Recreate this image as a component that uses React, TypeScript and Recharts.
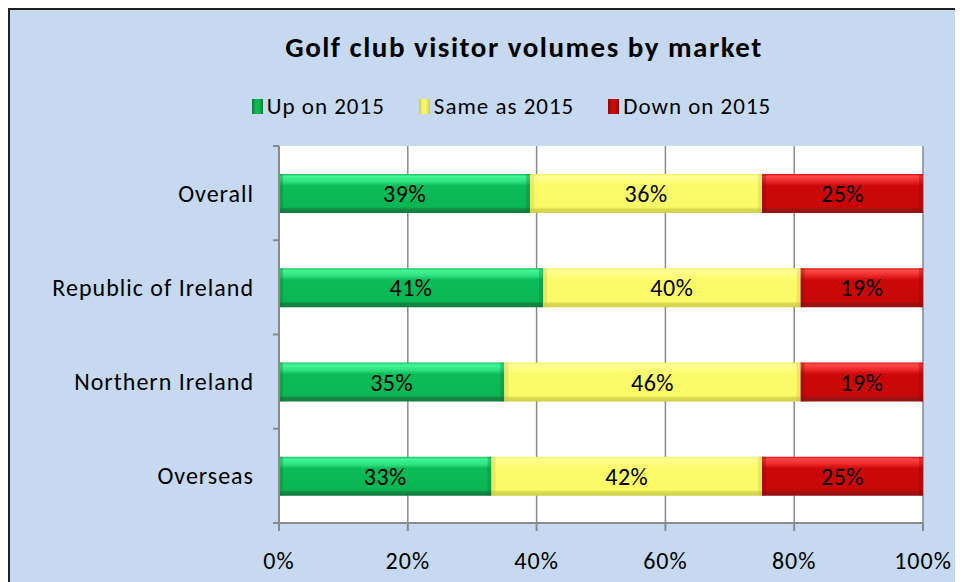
import { BarChart, Bar, XAxis, YAxis, CartesianGrid, LabelList } from "recharts";

const markets = ["Overall", "Republic of Ireland", "Northern Ireland", "Overseas"];
const upOn2015 = [39, 41, 35, 33];
const sameAs2015 = [36, 40, 46, 42];
const downOn2015 = [25, 19, 19, 25];
const xTicks = [0, 20, 40, 60, 80, 100];

const series = [
  { key: "up", name: "Up on 2015", grad: "gUp", edge: "#0c7a3a", swatch: "#10b955" },
  { key: "same", name: "Same as 2015", grad: "gSame", edge: "#c9c94a", swatch: "#f6f66a" },
  { key: "down", name: "Down on 2015", grad: "gDown", edge: "#8a0808", swatch: "#cc0a0a" },
];

const data = markets.map((m, i) => ({
  market: m,
  up: upOn2015[i],
  same: sameAs2015[i],
  down: downOn2015[i],
}));

const FONT = "Carlito, Lato, 'DejaVu Sans', sans-serif";
const GRAY = "#8a8a8a";

const BevelBar = (props: any) => {
  const { x, y, width, height, grad, edge } = props;
  if (!width || width <= 0) return null;
  const e = Math.min(4, width / 4);
  return (
    <g>
      <rect x={x} y={y} width={width} height={height} fill={`url(#${grad})`} />
      <rect x={x} y={y} width={e} height={height} fill={edge} opacity={0.35} />
      <rect x={x + width - e} y={y} width={e} height={height} fill={edge} opacity={0.35} />
    </g>
  );
};

const YTick = (props: any) => {
  const { x, y, payload, index } = props;
  const half = payload && payload.offset ? payload.offset : 47;
  const ax = x + 26;
  return (
    <g>
      <line x1={ax - 6} x2={ax} y1={y - half} y2={y - half} stroke={GRAY} strokeWidth={2} />
      {index === markets.length - 1 && (
        <line x1={ax - 6} x2={ax} y1={y + half} y2={y + half} stroke={GRAY} strokeWidth={2} />
      )}
      <text
        x={x + 1}
        y={y}
        dy="0.35em"
        textAnchor="end"
        fill="#000"
        fontSize={24}
        letterSpacing={1}
        fontFamily={FONT}
      >
        {payload.value}
      </text>
    </g>
  );
};

export default function App() {
  return (
    <div
      style={{
        position: "relative",
        width: 955,
        height: 574,
        boxSizing: "border-box",
        borderTop: "2px solid #222",
        borderLeft: "2px solid #222",
        background: "#c6d9f0",
        fontFamily: FONT,
        overflow: "hidden",
      }}
    >
      <div
        style={{
          position: "absolute",
          top: 19,
          left: 0,
          width: 1028,
          textAlign: "center",
          fontWeight: "bold",
          fontSize: 29,
          letterSpacing: 1.5,
          color: "#000",
        }}
      >
        Golf club visitor volumes by market
      </div>
      <div
        style={{
          position: "absolute",
          top: 82,
          left: 0,
          width: 1003,
          display: "flex",
          justifyContent: "center",
          gap: 34,
          fontSize: 23,
          letterSpacing: 1,
          color: "#000",
        }}
      >
        {series.map((s) => (
          <div key={s.key} style={{ display: "flex", alignItems: "center" }}>
            <span
              style={{
                display: "inline-block",
                width: 11,
                height: 15,
                marginRight: 4,
                background: `linear-gradient(to right, ${s.edge}, ${s.swatch} 35%, ${s.swatch} 65%, ${s.edge})`,
              }}
            />
            <span>{s.name}</span>
          </div>
        ))}
      </div>
      <BarChart
        width={953}
        height={572}
        data={data}
        layout="vertical"
        margin={{ top: 136, right: 40, bottom: 9, left: 0 }}
        barSize={39}
      >
        <defs>
          <linearGradient id="gUp" x1="0" y1="0" x2="0" y2="1">
            <stop offset="0" stopColor="#17c063" />
            <stop offset="0.06" stopColor="#42f596" />
            <stop offset="0.2" stopColor="#2ee07e" />
            <stop offset="0.3" stopColor="#0cbb57" />
            <stop offset="0.85" stopColor="#0bb654" />
            <stop offset="0.9" stopColor="#138a44" />
            <stop offset="1" stopColor="#137a3d" />
          </linearGradient>
          <linearGradient id="gSame" x1="0" y1="0" x2="0" y2="1">
            <stop offset="0" stopColor="#f2f25c" />
            <stop offset="0.06" stopColor="#ffff96" />
            <stop offset="0.2" stopColor="#fdfd7a" />
            <stop offset="0.3" stopColor="#fbfb6a" />
            <stop offset="0.85" stopColor="#fafa68" />
            <stop offset="0.9" stopColor="#dcdc52" />
            <stop offset="1" stopColor="#cfcf4c" />
          </linearGradient>
          <linearGradient id="gDown" x1="0" y1="0" x2="0" y2="1">
            <stop offset="0" stopColor="#d81414" />
            <stop offset="0.06" stopColor="#ff4a4a" />
            <stop offset="0.2" stopColor="#e82424" />
            <stop offset="0.3" stopColor="#cc0808" />
            <stop offset="0.85" stopColor="#c80808" />
            <stop offset="0.9" stopColor="#a01010" />
            <stop offset="1" stopColor="#961212" />
          </linearGradient>
        </defs>
        <CartesianGrid horizontal={false} stroke={GRAY} strokeWidth={1.5} fill="#fff" />
        <XAxis
          type="number"
          domain={[0, 100]}
          ticks={xTicks}
          tickFormatter={(v) => `${v}%`}
          height={50}
          tickSize={8}
          tickMargin={21}
          axisLine={{ stroke: GRAY, strokeWidth: 2 }}
          tickLine={{ stroke: GRAY, strokeWidth: 2 }}
          tick={{ fill: "#000", fontSize: 24, fontFamily: FONT, letterSpacing: 1 }}
          interval={0}
        />
        <YAxis
          type="category"
          dataKey="market"
          width={269}
          tickSize={6}
          tickMargin={20}
          tickLine={false}
          axisLine={{ stroke: GRAY, strokeWidth: 2 }}
          tick={<YTick />}
          interval={0}
        />
        {series.map((s) => (
          <Bar
            key={s.key}
            dataKey={s.key}
            name={s.name}
            stackId="a"
            isAnimationActive={false}
            shape={(p: any) => <BevelBar {...p} grad={s.grad} edge={s.edge} />}
          >
            <LabelList
              dataKey={s.key}
              position="center"
              formatter={(v: any) => `${v}%`}
              fill="#000"
              fontSize={24}
              letterSpacing={0.5}
              fontFamily={FONT}
            />
          </Bar>
        ))}
      </BarChart>
    </div>
  );
}
